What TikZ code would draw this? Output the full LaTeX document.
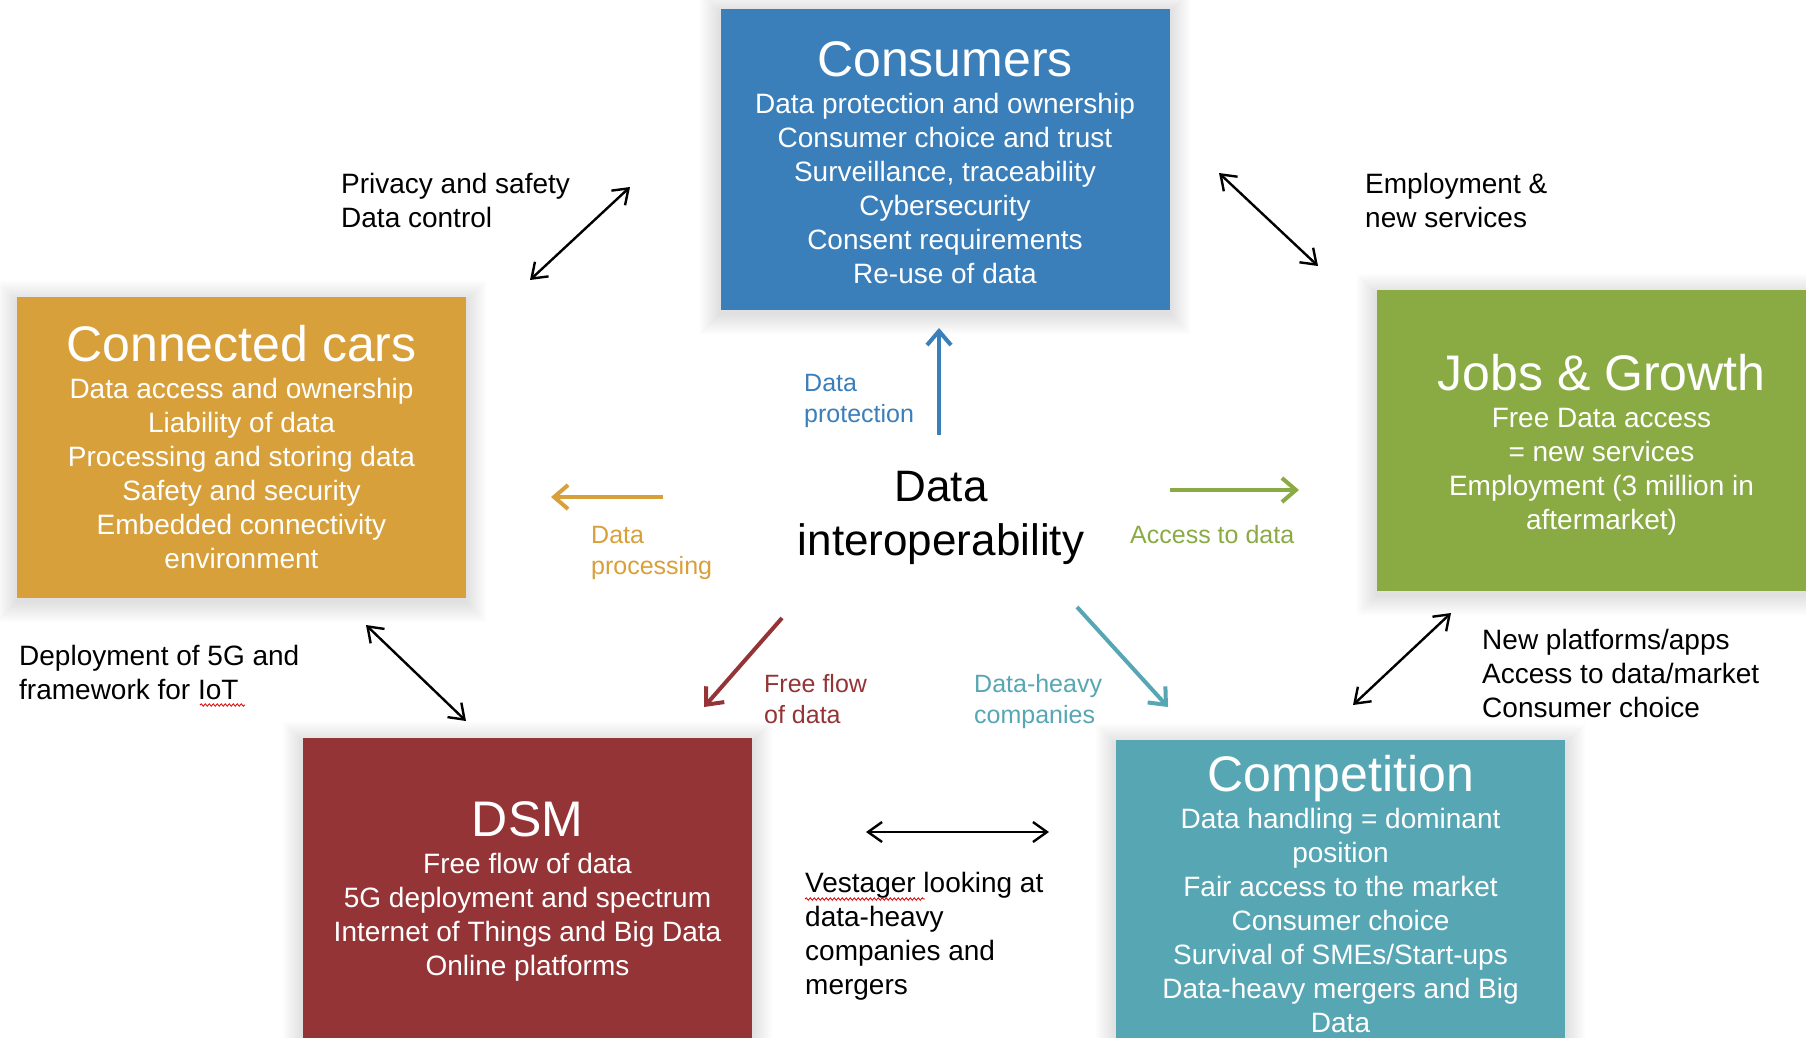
\documentclass[tikz,border=0pt]{standalone}
\usepackage{fontspec}
\setmainfont{Liberation Sans}
\usetikzlibrary{arrows.meta,backgrounds,decorations.pathmorphing}
\definecolor{csBlue}{HTML}{3A7EBA}
\definecolor{csGold}{HTML}{D8A03A}
\definecolor{csGreen}{HTML}{8AAA43}
\definecolor{csRed}{HTML}{953436}
\definecolor{csTeal}{HTML}{57A6B4}
\newcommand\boxtitle{\fontsize{50}{56}\selectfont}
% soft grey haze behind a box
\newcommand\haze[1]{\foreach \g in {1,...,10}{%
  \fill[black,opacity=0.011]([xshift=-2*\g pt,yshift=2*\g pt-4pt]#1.north west)
    rectangle([xshift=2*\g pt,yshift=-2*\g pt-4pt]#1.south east);}}

\tikzset{
  theme/.style={fill=#1,minimum width=449pt,minimum height=301pt,inner sep=0pt},
  boxtext/.style={text=white,anchor=north,align=center,inner sep=0pt,font=\fontsize{28}{34}\selectfont},
  sidetext/.style={anchor=north west,align=left,inner sep=0pt,font=\fontsize{28}{34}\selectfont},
  flowtext/.style={text=#1,anchor=north west,align=left,inner sep=0pt,font=\fontsize{25}{31}\selectfont},
  link/.style={line width=2.4pt,{Straight Barb[length=14pt,width=20pt]}-{Straight Barb[length=14pt,width=20pt]}},
  flow/.style={draw=#1,line width=4pt,-{Straight Barb[length=14pt,width=24pt]}},
  spell/.style={red!85!black,line width=0.8pt,decorate,decoration={snake,amplitude=1.2pt,segment length=4pt}}
}

\begin{document}
\begin{tikzpicture}[x=1pt,y=-1pt]
\useasboundingbox(0,0)rectangle(1806,1037);

% the five themes
\node[theme=csBlue] (consumers) at (945,159) {};
\node[theme=csGold] (cars) at (241.5,447.5) {};
\node[theme=csGreen] (jobs) at (1601.5,440.5) {};
\node[theme=csRed] (dsm) at (527.5,888.5) {};
\node[theme=csTeal] (competition) at (1340.5,890.5) {};
\begin{pgfonlayer}{background}
  \fill[white](0,0)rectangle(1806,1037);
  \haze{consumers}\haze{cars}\haze{jobs}\haze{dsm}\haze{competition}
\end{pgfonlayer}

\node[boxtext] (consumers-txt) at (945,41) {{\boxtitle Consumers}\\[3pt]
  Data protection and ownership\\Consumer choice and trust\\Surveillance, traceability\\
  Cybersecurity\\Consent requirements\\Re-use of data};
\node[boxtext] (cars-txt) at (241.5,325) {{\boxtitle Connected cars}\\[3pt]
  Data access and ownership\\Liability of data\\Processing and storing data\\
  Safety and security\\Embedded connectivity\\environment};
\node[boxtext] (jobs-txt) at (1601.5,354) {{\boxtitle Jobs \& Growth}\\[3pt]
  Free Data access\\= new services\\Employment (3 million in\\aftermarket)};
\node[boxtext] (dsm-txt) at (527.5,801) {{\boxtitle DSM}\\[3pt]
  Free flow of data\\5G deployment and spectrum\\Internet of Things and Big Data\\Online platforms};
\node[boxtext] (competition-txt) at (1340.5,755) {{\boxtitle Competition}\\[3pt]
  Data handling = dominant\\position\\Fair access to the market\\Consumer choice\\
  Survival of SMEs/Start-ups\\Data-heavy mergers and Big\\Data};

% hub
\node[anchor=north,align=center,inner sep=0pt,font=\fontsize{44}{54}\selectfont] (hub) at (941,471) {Data\\interoperability};

% links between themes
\node[sidetext] (privacy) at (341,173) {Privacy and safety\\Data control};
\node[sidetext] (employ) at (1365,173) {Employment \&\\new services};
\node[sidetext] (deploy) at (19,645) {Deployment of 5G and\\framework for IoT};
\node[sidetext] (platforms) at (1482,629) {New platforms/apps\\Access to data/market\\Consumer choice};
\node[sidetext] (vestager) at (805,872) {Vestager looking at\\data-heavy\\companies and\\mergers};
\draw[spell](200,705)--(245,705);
\draw[spell](805,899)--(925,899);

\coordinate (pr-a) at (530,280); \coordinate (pr-b) at (630,187);
\coordinate (em-a) at (1219,173); \coordinate (em-b) at (1318,266);
\coordinate (de-a) at (366,625); \coordinate (de-b) at (466,721);
\coordinate (pl-a) at (1353,705); \coordinate (pl-b) at (1451,613);
\coordinate (ve-a) at (866,832); \coordinate (ve-b) at (1049,832);
\draw[link](pr-a)--(pr-b);
\draw[link](em-a)--(em-b);
\draw[link](de-a)--(de-b);
\draw[link](pl-a)--(pl-b);
\draw[link](ve-a)--(ve-b);

% flows out of the hub
\coordinate (up-a) at (939,435); \coordinate (up-b) at (939,328);
\coordinate (lt-a) at (663,497); \coordinate (lt-b) at (551,497);
\coordinate (rt-a) at (1170,490); \coordinate (rt-b) at (1299,490);
\coordinate (dl-a) at (782,618); \coordinate (dl-b) at (704,707);
\coordinate (dr-a) at (1077,607); \coordinate (dr-b) at (1168,707);
\draw[flow=csBlue](up-a)--(up-b);
\draw[flow=csGold](lt-a)--(lt-b);
\draw[flow=csGreen](rt-a)--(rt-b);
\draw[flow=csRed](dl-a)--(dl-b);
\draw[flow=csTeal](dr-a)--(dr-b);
\node[flowtext=csBlue] (protect) at (804,374) {Data\\protection};
\node[flowtext=csGold] (process) at (591,526) {Data\\processing};
\node[flowtext=csGreen] (access) at (1130,525) {Access to data};
\node[flowtext=csRed] (freeflow) at (764,674) {Free flow\\of data};
\node[flowtext=csTeal] (heavy) at (974,674) {Data-heavy\\companies};
\end{tikzpicture}
\end{document}
